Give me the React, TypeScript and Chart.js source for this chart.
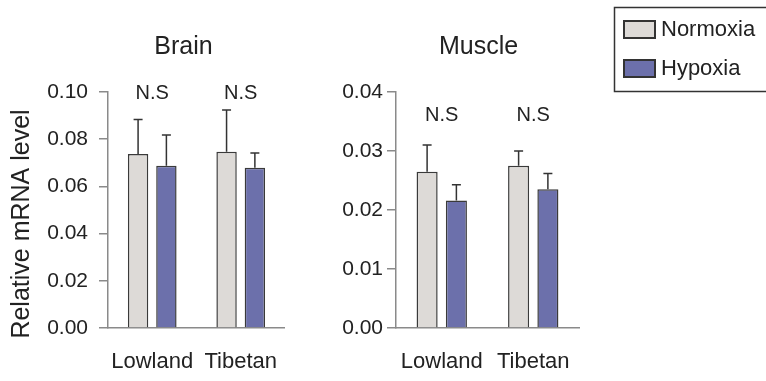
import React, { useEffect, useRef } from "react";
import { Chart, registerables } from "chart.js";
Chart.register(...registerables);

const categories = ["Lowland", "Tibetan"];
const seriesNames = ["Normoxia", "Hypoxia"];
const seriesColors = ["#dddad7", "#6c70ab"];

const brainNormoxia = [0.0737, 0.0747];
const brainNormoxiaErr = [0.0147, 0.0177];
const brainHypoxia = [0.0688, 0.0679];
const brainHypoxiaErr = [0.013, 0.0063];

const muscleNormoxia = [0.0265, 0.0275];
const muscleNormoxiaErr = [0.0045, 0.0025];
const muscleHypoxia = [0.0216, 0.0235];
const muscleHypoxiaErr = [0.0027, 0.0027];

const significance = ["N.S", "N.S"];
const brainTicks = [0, 0.02, 0.04, 0.06, 0.08, 0.1];
const muscleTicks = [0, 0.01, 0.02, 0.03, 0.04];

const FONT = "'Liberation Sans', Arial, Helvetica, sans-serif";
const AXIS = "#8a8a8a";
const TEXT = "#222";

type Panel = {
  title: string;
  titleDx: number;
  normoxia: number[];
  normoxiaErr: number[];
  hypoxia: number[];
  hypoxiaErr: number[];
  ticks: number[];
  nsValue: number;
  yWidth: number;
  padRight: number;
  tickPad: number;
  yTitle?: string;
  legend?: boolean;
  canvasLeft: number;
  canvasWidth: number;
};

const panels: Panel[] = [
  {
    title: "Brain",
    titleDx: -13,
    normoxia: brainNormoxia,
    normoxiaErr: brainNormoxiaErr,
    hypoxia: brainHypoxia,
    hypoxiaErr: brainHypoxiaErr,
    ticks: brainTicks,
    nsValue: 0.0995,
    yWidth: 108,
    padRight: 8,
    tickPad: 11,
    yTitle: "Relative mRNA level",
    canvasLeft: 0,
    canvasWidth: 300,
  },
  {
    title: "Muscle",
    titleDx: -9,
    normoxia: muscleNormoxia,
    normoxiaErr: muscleNormoxiaErr,
    hypoxia: muscleHypoxia,
    hypoxiaErr: muscleHypoxiaErr,
    ticks: muscleTicks,
    nsValue: 0.0361,
    yWidth: 96,
    padRight: 187,
    tickPad: 4,
    legend: true,
    canvasLeft: 300,
    canvasWidth: 466,
  },
];

const H = 381;

function makeDecor(p: Panel) {
  return {
    id: "decor",
    afterDatasetsDraw(chart: any) {
      const ctx = chart.ctx;
      const ys = chart.scales.y;
      const xs = chart.scales.x;
      const area = chart.chartArea;
      // error bars
      chart.data.datasets.forEach((ds: any, i: number) => {
        const meta = chart.getDatasetMeta(i);
        meta.data.forEach((bar: any, j: number) => {
          const top = ys.getPixelForValue(ds.data[j] + ds.errors[j]);
          ctx.save();
          ctx.strokeStyle = "#333";
          ctx.lineWidth = 1.5;
          ctx.beginPath();
          ctx.moveTo(bar.x, bar.y);
          ctx.lineTo(bar.x, top);
          ctx.moveTo(bar.x - 4.5, top);
          ctx.lineTo(bar.x + 4.5, top);
          ctx.stroke();
          ctx.restore();
        });
      });
      ctx.save();
      ctx.fillStyle = TEXT;
      ctx.textAlign = "center";
      ctx.textBaseline = "middle";
      // significance labels
      ctx.font = `20px ${FONT}`;
      significance.forEach((s, j) => {
        ctx.fillText(s, xs.getPixelForValue(j), ys.getPixelForValue(p.nsValue));
      });
      // panel title
      ctx.font = `25px ${FONT}`;
      ctx.fillText(p.title, (area.left + area.right) / 2 + p.titleDx, 47);
      // y title
      if (p.yTitle) {
        ctx.save();
        ctx.translate(22, 224);
        ctx.rotate(-Math.PI / 2);
        ctx.font = `25px ${FONT}`;
        ctx.fillText(p.yTitle, 0, 0);
        ctx.restore();
      }
      // legend
      if (p.legend) {
        const lx = 614 - p.canvasLeft;
        ctx.strokeStyle = "#333";
        ctx.lineWidth = 1.5;
        ctx.strokeRect(lx + 0.5, 7.5, 200, 84);
        chart.data.datasets.forEach((ds: any, i: number) => {
          const sy = i === 0 ? 21 : 60;
          ctx.fillStyle = ds.backgroundColor;
          ctx.fillRect(lx + 10, sy, 31, 17);
          ctx.strokeStyle = "#333";
          ctx.lineWidth = 2;
          ctx.strokeRect(lx + 10, sy, 31, 17);
          ctx.fillStyle = TEXT;
          ctx.font = `22px ${FONT}`;
          ctx.textAlign = "left";
          ctx.textBaseline = "middle";
          ctx.fillText(ds.label, lx + 47, sy + 9);
        });
      }
      ctx.restore();
    },
  };
}

function PanelChart({ p }: { p: Panel }) {
  const ref = useRef<HTMLCanvasElement>(null);
  useEffect(() => {
    if (!ref.current) return;
    const chart = new Chart(ref.current, {
      type: "bar",
      data: {
        labels: categories,
        datasets: [
          {
            label: seriesNames[0],
            data: p.normoxia,
            errors: p.normoxiaErr,
            backgroundColor: seriesColors[0],
            borderColor: "#3a3a3a",
            borderWidth: 1.5,
            categoryPercentage: 0.64,
            barPercentage: 0.72,
          } as any,
          {
            label: seriesNames[1],
            data: p.hypoxia,
            errors: p.hypoxiaErr,
            backgroundColor: seriesColors[1],
            borderColor: "#3a3a3a",
            borderWidth: 1.5,
            categoryPercentage: 0.64,
            barPercentage: 0.72,
          } as any,
        ],
      },
      options: {
        responsive: false,
        animation: false,
        devicePixelRatio: 1,
        layout: { padding: { left: 0, top: 92, right: p.padRight, bottom: 0 } },
        plugins: {
          legend: { display: false },
          tooltip: { enabled: false },
          title: { display: false },
        },
        scales: {
          x: {
            grid: { display: true, drawOnChartArea: false, drawTicks: false, color: AXIS },
            border: { display: true, color: AXIS, width: 1.5 },
            ticks: {
              padding: 21,
              color: TEXT,
              font: { size: 22, family: FONT },
              maxRotation: 0,
              minRotation: 0,
              autoSkip: false,
            },
            afterFit: (s: any) => {
              s.height = 53;
            },
          },
          y: {
            min: 0,
            max: p.ticks[p.ticks.length - 1],
            grid: { display: true, drawOnChartArea: false, drawTicks: true, tickLength: 9, color: AXIS, lineWidth: 1.5 },
            border: { display: true, color: AXIS, width: 1.5 },
            ticks: {
              padding: p.tickPad,
              color: TEXT,
              font: { size: 21, family: FONT },
              callback: (v: any) => Number(v).toFixed(2),
            },
            afterBuildTicks: (s: any) => {
              s.ticks = p.ticks.map((v) => ({ value: v }));
            },
            afterFit: (s: any) => {
              s.width = p.yWidth;
            },
          },
        },
      } as any,
      plugins: [makeDecor(p)],
    });
    return () => chart.destroy();
  }, [p]);
  return (
    <canvas
      ref={ref}
      width={p.canvasWidth}
      height={H}
      style={{ position: "absolute", left: p.canvasLeft, top: 0, width: p.canvasWidth, height: H }}
    />
  );
}

export default function App() {
  return (
    <div style={{ position: "fixed", left: 0, top: 0, width: 766, height: H, background: "#fff", overflow: "hidden" }}>
      {panels.map((p) => (
        <PanelChart key={p.title} p={p} />
      ))}
    </div>
  );
}
